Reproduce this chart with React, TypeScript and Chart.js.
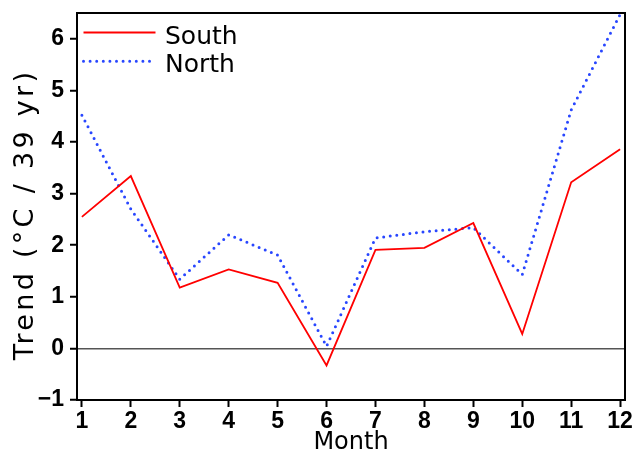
import React, { useEffect, useRef } from "react";
import { Chart, registerables } from "chart.js";

Chart.register(...registerables);

// ---- data ----
const months = [1, 2, 3, 4, 5, 6, 7, 8, 9, 10, 11, 12];
const southTrend = [2.55, 3.34, 1.18, 1.53, 1.27, -0.33, 1.91, 1.95, 2.43, 0.28, 3.22, 3.86];
const northTrend = [4.52, 2.7, 1.34, 2.2, 1.81, 0.04, 2.14, 2.26, 2.34, 1.43, 4.62, 6.47];
const seriesLabels = ["South", "North"];
const xTitle = "Month";
const yTitle = "Trend (°C / 39 yr)";

const TICK_FONT = "'Liberation Sans Narrow', 'Liberation Sans', sans-serif";
const TEXT_FONT = "'DejaVu Sans', sans-serif";

const fmtTick = (v: any) => String(v).replace("-", "\u2212");

export default function App() {
  const ref = useRef<HTMLCanvasElement>(null);

  useEffect(() => {
    if (!ref.current) return;

    const framePlugin = {
      id: "frame",
      afterDatasetsDraw(chart: any) {
        const { ctx, chartArea: a } = chart;
        ctx.save();
        ctx.strokeStyle = "#000";
        ctx.lineWidth = 2;
        ctx.setLineDash([]);
        ctx.strokeRect(a.left, a.top, a.right - a.left, a.bottom - a.top);
        ctx.restore();
      },
    };

    // legend inside the plot, top-left, built from the datasets
    const legendPlugin = {
      id: "insideLegend",
      afterDatasetsDraw(chart: any) {
        const { ctx, chartArea: a } = chart;
        ctx.save();
        chart.data.datasets.forEach((ds: any, i: number) => {
          const y = a.top + 19.5 + i * 28.7;
          ctx.beginPath();
          ctx.strokeStyle = ds.borderColor;
          ctx.lineWidth = ds.borderWidth;
          ctx.lineCap = ds.borderCapStyle || "butt";
          ctx.setLineDash(ds.borderDash || []);
          ctx.moveTo(a.left + 6.5, y);
          ctx.lineTo(a.left + 78.5, y);
          ctx.stroke();
          ctx.setLineDash([]);
          ctx.fillStyle = "#000";
          ctx.font = `25px ${TEXT_FONT}`;
          ctx.textAlign = "left";
          ctx.textBaseline = "alphabetic";
          ctx.fillText(ds.label, a.left + 88, y + 11);
        });
        ctx.restore();
      },
    };

    const titlePlugin = {
      id: "titles",
      afterDraw(chart: any) {
        const { ctx, chartArea: a } = chart;
        ctx.save();
        ctx.fillStyle = "#000";
        ctx.textAlign = "center";
        ctx.textBaseline = "alphabetic";
        ctx.font = `24px ${TEXT_FONT}`;
        (ctx as any).letterSpacing = "0px";
        ctx.fillText(xTitle, (a.left + a.right) / 2, a.bottom + 49);
        ctx.translate(33, (a.top + a.bottom) / 2 + 8);
        ctx.rotate(-Math.PI / 2);
        ctx.font = `27px ${TEXT_FONT}`;
        (ctx as any).letterSpacing = "3.3px";
        ctx.fillText(yTitle, 0, 0);
        ctx.restore();
      },
    };

    const chart = new Chart(ref.current, {
      type: "line",
      data: {
        datasets: [
          {
            label: seriesLabels[0],
            data: months.map((m, i) => ({ x: m, y: southTrend[i] })),
            borderColor: "#ff0000",
            backgroundColor: "#ff0000",
            borderWidth: 1.8,
            pointRadius: 0,
            tension: 0,
            fill: false,
          },
          {
            label: seriesLabels[1],
            data: months.map((m, i) => ({ x: m, y: northTrend[i] })),
            borderColor: "rgb(40,70,255)",
            backgroundColor: "rgb(40,70,255)",
            borderWidth: 3,
            borderDash: [0, 6.6],
            borderCapStyle: "round",
            pointRadius: 0,
            tension: 0,
            fill: false,
          },
        ],
      },
      options: {
        animation: false,
        responsive: false,
        maintainAspectRatio: false,
        layout: { padding: { top: 13, right: 9, left: 0, bottom: 0 } },
        plugins: {
          tooltip: { enabled: false },
          legend: { display: false },
        },
        scales: {
          x: {
            type: "linear",
            min: 0.9,
            max: 12.1,
            ticks: {
              stepSize: 1,
              includeBounds: false,
              autoSkip: false,
              maxRotation: 0,
              color: "#000",
              padding: 1,
              callback: fmtTick,
              font: { family: TICK_FONT, size: 23, weight: "bold" },
            },
            grid: {
              drawOnChartArea: false,
              drawTicks: true,
              tickLength: 7,
              tickWidth: 2,
              tickColor: "#000",
            },
            border: { display: false },
            afterFit(s: any) {
              s.height = 51;
              s.paddingLeft = 0;
              s.paddingRight = 0;
            },
          },
          y: {
            type: "linear",
            min: -1,
            max: 6.5,
            ticks: {
              stepSize: 1,
              includeBounds: false,
              color: "#000",
              padding: 6,
              callback: fmtTick,
              font: { family: TICK_FONT, size: 23, weight: "bold" },
            },
            grid: {
              drawOnChartArea: true,
              color: (c: any) => (c.tick && c.tick.value === 0 ? "#555" : "rgba(0,0,0,0)"),
              lineWidth: 1.5,
              drawTicks: true,
              tickLength: 7,
              tickWidth: 2,
              tickColor: "#000",
            },
            border: { display: false },
            afterFit(s: any) {
              s.width = 77;
              s.paddingTop = 0;
              s.paddingBottom = 0;
            },
          },
        },
      },
      plugins: [framePlugin, legendPlugin, titlePlugin],
    });

    return () => chart.destroy();
  }, []);

  return (
    <div style={{ position: "absolute", left: 0, top: 0, width: 634, height: 451, background: "#fff" }}>
      <canvas ref={ref} width={634} height={451} style={{ display: "block" }} />
    </div>
  );
}
